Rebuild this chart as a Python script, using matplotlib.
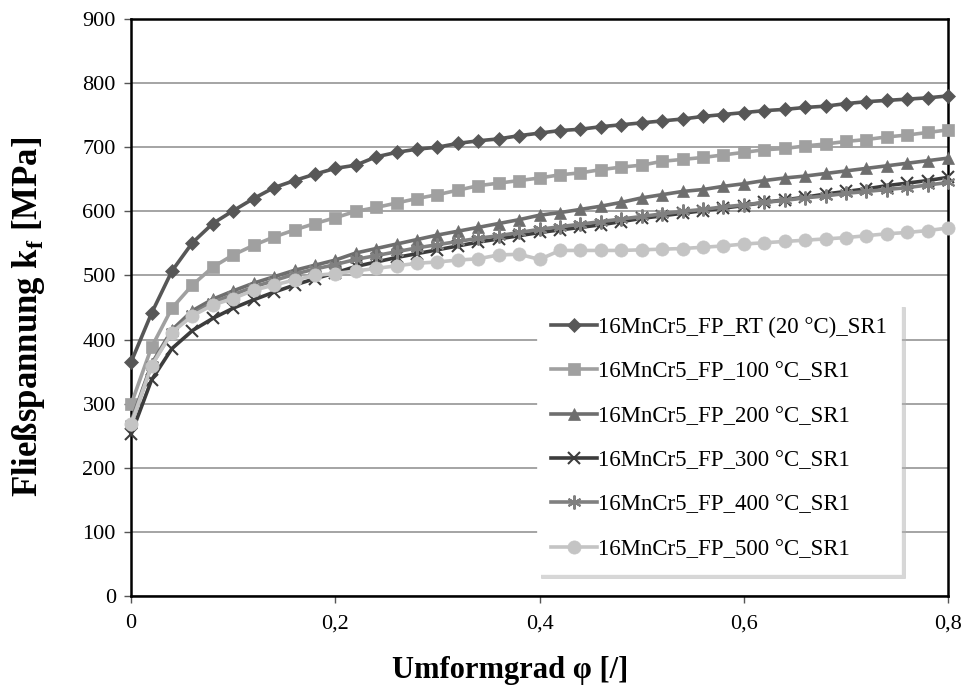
import matplotlib
matplotlib.use("Agg")
import matplotlib.pyplot as plt
import numpy as np
from matplotlib.ticker import FuncFormatter

plt.rcParams['font.family'] = ['Liberation Serif', 'DejaVu Serif']
plt.rcParams['mathtext.fontset'] = 'custom'
plt.rcParams['mathtext.rm'] = 'Liberation Serif'
plt.rcParams['mathtext.bf'] = 'Liberation Serif:bold'

# Umformgrad phi, Schrittweite 0,02
phi = np.round(np.arange(0, 0.8001, 0.02), 2)

kf_rt = [365, 441, 507, 551, 581, 601, 620, 637, 648, 658, 667, 672, 685, 692,
         697, 700, 706, 710, 713, 718, 722, 726, 728, 732, 735, 738, 741, 744,
         748, 751, 754, 757, 759, 762, 764, 768, 771, 773, 775, 777, 780]
kf_100 = [299, 388, 449, 485, 513, 532, 547, 560, 571, 581, 590, 600, 606, 613,
          620, 626, 633, 640, 644, 648, 652, 657, 660, 665, 669, 672, 678, 681,
          684, 688, 692, 696, 698, 702, 705, 709, 712, 716, 719, 723, 727]
kf_200 = [272, 362, 415, 445, 463, 476, 488, 498, 508, 516, 524, 535, 542, 549,
          556, 563, 569, 575, 581, 587, 594, 598, 603, 608, 614, 621, 626, 631,
          634, 639, 643, 648, 652, 655, 659, 663, 667, 671, 675, 679, 683]
kf_300 = [252, 337, 386, 414, 433, 449, 462, 474, 485, 495, 504, 514, 521, 528,
          534, 540, 546, 552, 557, 562, 567, 571, 575, 579, 584, 589, 593, 597,
          601, 605, 609, 614, 618, 622, 627, 631, 635, 640, 644, 648, 653]
kf_400 = [268, 360, 412, 440, 458, 470, 482, 492, 502, 510, 517, 525, 531, 537,
          543, 548, 553, 558, 562, 567, 572, 576, 580, 584, 588, 592, 596, 600,
          603, 607, 610, 614, 617, 621, 624, 628, 631, 634, 637, 641, 645]
kf_500 = [268, 359, 411, 437, 454, 464, 477, 485, 493, 500, 503, 507, 511, 515,
          519, 521, 524, 526, 532, 533, 525, 539, 539, 539, 539, 540, 541, 542,
          544, 546, 549, 551, 553, 555, 557, 559, 562, 565, 567, 570, 574]

labels = ["16MnCr5_FP_RT (20 °C)_SR1", "16MnCr5_FP_100 °C_SR1",
          "16MnCr5_FP_200 °C_SR1", "16MnCr5_FP_300 °C_SR1",
          "16MnCr5_FP_400 °C_SR1", "16MnCr5_FP_500 °C_SR1"]
series = [kf_rt, kf_100, kf_200, kf_300, kf_400, kf_500]
colors = ["#575757", "#a0a0a0", "#6e6e6e", "#3c3c3c", "#808080", "#c4c4c4"]
markers = ["D", "s", "^", "x", (6, 2, 0), "o"]
sizes = [7.5, 8.5, 8.5, 9, 10, 9.5]

fig = plt.figure(figsize=(9.64, 6.95), dpi=100)
ax = fig.add_axes([0.136, 0.1424, 0.8475, 0.8303])

for y, lab, c, m, s in zip(series, labels, colors, markers, sizes):
    ax.plot(phi, y, color=c, lw=2.6, marker=m, markersize=s,
            markeredgewidth=1.5 if m in ("x", (6, 2, 0)) else 0.5,
            markeredgecolor=c, markerfacecolor=c, label=lab, zorder=3,
            clip_on=False)

ax.set_xlim(0, 0.8)
ax.set_ylim(0, 900)
ax.set_xticks([0, 0.2, 0.4, 0.6, 0.8])
ax.set_yticks(range(0, 901, 100))
ax.xaxis.set_major_formatter(FuncFormatter(lambda v, p: "0" if v == 0 else f"{v:.1f}".replace(".", ",")))
ax.grid(axis="y", color="#8c8c8c", lw=1.1)
ax.set_axisbelow(True)
ax.tick_params(direction="out", length=5, width=1, colors="#555555",
               labelsize=16, labelcolor="black")
ax.tick_params(axis="x", pad=8)
ax.tick_params(axis="y", pad=6)
for sp in ax.spines.values():
    sp.set_color("black")
    sp.set_linewidth(1.8)

ax.set_xlabel("Umformgrad φ [/]", fontsize=22, fontweight="bold")
ax.xaxis.set_label_coords(0.464, -0.104)
ax.set_ylabel(r"Fließspannung k$_\mathbf{f}$ [MPa]", fontsize=25,
              fontweight="bold")
ax.yaxis.set_label_coords(-0.103, 0.483)

leg = ax.legend(loc="upper left", bbox_to_anchor=(0.497, 0.508), fontsize=16.5,
                frameon=True, fancybox=False, edgecolor="white",
                labelspacing=1.02, handlelength=2.0, handletextpad=0.05,
                borderpad=0.6, borderaxespad=0,
                shadow={"color": "#b0b0b0", "alpha": 0.5, "ox": 3, "oy": -3})
leg.get_frame().set_linewidth(0.5)

fig.savefig("out.png", dpi=100)
